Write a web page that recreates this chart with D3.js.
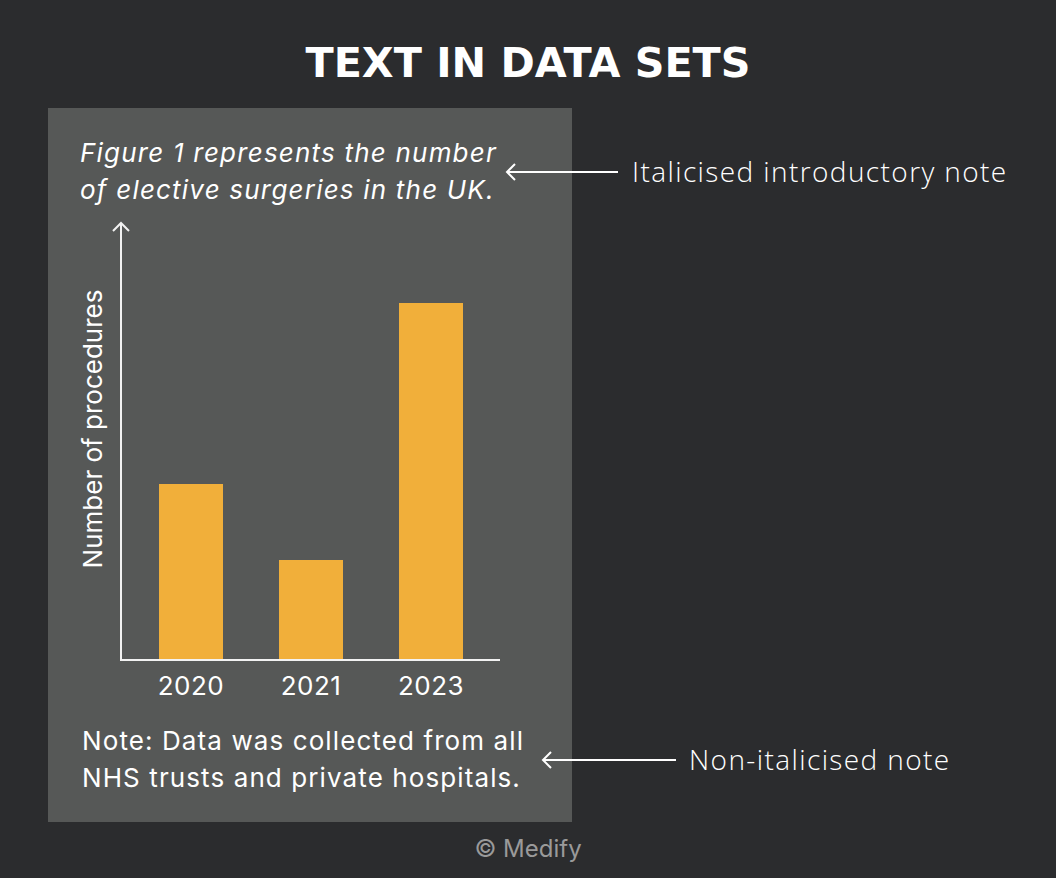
<!DOCTYPE html>
<html lang="en">
<head>
    <meta charset="UTF-8">
    <title>Text in data sets</title>
    <style>
        body {
            margin: 0;
            padding: 0;
            background: #2b2c2e;
        }
        svg { display: block; }
    </style>
</head>
<body>
    <svg id="chart"></svg>
    <script src="https://d3js.org/d3.v7.min.js"></script>
    <script>
        // Data
        const years = ["2020", "2021", "2023"];
        const procedures = [176, 100, 357];
        const yMax = 440;

        const titleText = "TEXT IN DATA SETS";
        const introLines = ["Figure 1 represents the number", "of elective surgeries in the UK."];
        const noteLines = ["Note: Data was collected from all", "NHS trusts and private hospitals."];
        const calloutLabels = ["Italicised introductory note", "Non-italicised note"];
        const yLabel = "Number of procedures";
        const credit = "\u00a9 Medify";

        const width = 1056;
        const height = 878;
        const bodyFont = "Inter, 'Liberation Sans', Arial, sans-serif";
        const handFont = "'Open Sans', 'Noto Sans', sans-serif";

        const svg = d3.select("#chart")
            .attr("width", width)
            .attr("height", height);

        svg.append("rect")
            .attr("width", width)
            .attr("height", height)
            .attr("fill", "#2b2c2e");

        // title
        svg.append("text")
            .attr("x", width / 2)
            .attr("y", 77)
            .attr("text-anchor", "middle")
            .attr("fill", "#ffffff")
            .attr("font-family", "'DejaVu Sans', sans-serif")
            .attr("font-weight", "bold")
            .attr("font-size", 40)
            .attr("textLength", 445)
            .attr("lengthAdjust", "spacingAndGlyphs")
            .text(titleText);

        // grey panel
        svg.append("rect")
            .attr("x", 48)
            .attr("y", 108)
            .attr("width", 524)
            .attr("height", 714)
            .attr("fill", "#565857");

        // intro note (italic)
        svg.append("g")
            .selectAll("text")
            .data(introLines)
            .join("text")
            .attr("x", 80)
            .attr("y", (d, i) => 162 + i * 37)
            .attr("fill", "#ffffff")
            .attr("font-family", bodyFont)
            .attr("font-style", "italic")
            .attr("font-size", 26)
            .attr("letter-spacing", 1.2)
            .text(d => d);

        // scales
        const x = d3.scaleBand()
            .domain(years)
            .range([131, 491])
            .paddingInner(0.4667)
            .paddingOuter(0.2333);

        const y = d3.scaleLinear()
            .domain([0, yMax])
            .range([660, 220]);

        // bars
        svg.append("g")
            .selectAll("rect")
            .data(procedures)
            .join("rect")
            .attr("x", (d, i) => x(years[i]))
            .attr("y", d => y(d))
            .attr("width", x.bandwidth())
            .attr("height", d => y(0) - y(d))
            .attr("fill", "#f1af3a");

        // axes
        const axisColor = "#f2f2f2";
        svg.append("line")
            .attr("x1", 121).attr("x2", 500)
            .attr("y1", y(0)).attr("y2", y(0))
            .attr("stroke", axisColor)
            .attr("stroke-width", 2);

        svg.append("line")
            .attr("x1", 121).attr("x2", 121)
            .attr("y1", y(0) + 1).attr("y2", y(yMax) + 3)
            .attr("stroke", axisColor)
            .attr("stroke-width", 2);

        svg.append("path")
            .attr("d", `M113,${y(yMax) + 11}L121,${y(yMax) + 3}L129,${y(yMax) + 11}`)
            .attr("fill", "none")
            .attr("stroke", axisColor)
            .attr("stroke-width", 2);

        // x labels
        svg.append("g")
            .selectAll("text")
            .data(years)
            .join("text")
            .attr("x", d => x(d) + x.bandwidth() / 2)
            .attr("y", 695)
            .attr("text-anchor", "middle")
            .attr("fill", "#ffffff")
            .attr("font-family", bodyFont)
            .attr("font-size", 26)
            .attr("letter-spacing", 0.5)
            .text(d => d);

        // y label
        svg.append("text")
            .attr("transform", "translate(102,429) rotate(-90)")
            .attr("text-anchor", "middle")
            .attr("fill", "#ffffff")
            .attr("font-family", bodyFont)
            .attr("font-size", 26)
            .text(yLabel);

        // bottom note
        svg.append("g")
            .selectAll("text")
            .data(noteLines)
            .join("text")
            .attr("x", 82)
            .attr("y", (d, i) => 750 + i * 37)
            .attr("fill", "#ffffff")
            .attr("font-family", bodyFont)
            .attr("font-size", 26)
            .attr("letter-spacing", 1.1)
            .text(d => d);

        // callouts
        const callouts = [
            { x1: 507, x2: 618, y: 172, tx: 632, ty: 182 },
            { x1: 543, x2: 676, y: 760, tx: 689, ty: 770 }
        ];

        callouts.forEach((c, i) => {
            svg.append("line")
                .attr("x1", c.x1).attr("x2", c.x2)
                .attr("y1", c.y).attr("y2", c.y)
                .attr("stroke", "#ffffff")
                .attr("stroke-width", 2);
            svg.append("path")
                .attr("d", `M${c.x1 + 8},${c.y - 8}L${c.x1},${c.y}L${c.x1 + 8},${c.y + 8}`)
                .attr("fill", "none")
                .attr("stroke", "#ffffff")
                .attr("stroke-width", 2);
            svg.append("text")
                .attr("x", c.tx)
                .attr("y", c.ty)
                .attr("fill", "#ffffff")
                .attr("font-family", handFont)
                .attr("font-weight", 300)
                .attr("font-size", 28)
                .attr("letter-spacing", 1.4)
                .text(calloutLabels[i]);
        });

        // credit
        svg.append("text")
            .attr("x", width / 2)
            .attr("y", 857)
            .attr("text-anchor", "middle")
            .attr("fill", "#9a9a9a")
            .attr("font-family", bodyFont)
            .attr("font-size", 24)
            .text(credit);
    </script>
</body>
</html>
